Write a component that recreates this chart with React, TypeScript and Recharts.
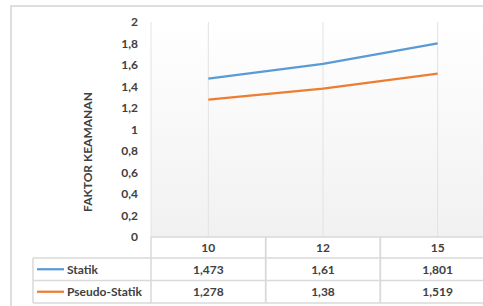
import { LineChart, Line, XAxis, YAxis, CartesianGrid } from 'recharts';

// Category labels and series values
const categories = ['10', '12', '15'];
const statik = [1.473, 1.61, 1.801];
const pseudoStatik = [1.278, 1.38, 1.519];
const yTicks = [0, 0.2, 0.4, 0.6, 0.8, 1, 1.2, 1.4, 1.6, 1.8, 2];

const seriesNames = ['Statik', 'Pseudo-Statik'];
const seriesColors = ['#5b9bd5', '#ed7d31'];

const data = categories.map((cat, i) => ({
  cat,
  statik: statik[i],
  pseudo: pseudoStatik[i],
}));

const CHART_W = 510;
const CHART_H = 306;
const MARGIN = { top: 22, right: 15, bottom: 0, left: 0 };
const Y_AXIS_W = 151;
const X_AXIS_H = 69;
const PLOT_W = CHART_W - MARGIN.left - MARGIN.right - Y_AXIS_W;
const COL_W = PLOT_W / categories.length;

const FONT = 'Lato, "Liberation Sans", sans-serif';
const TEXT = '#404040';
const BORDER = '#d9d9d9';
const ROWS = [21, 22.5, 22.5];

const fmt = (v: number) => String(v).replace('.', ',');

// Each x tick draws one column of the data table under the plot
function TableTick(props: any) {
  const { x, y, payload, index } = props;
  const left = x - COL_W / 2;
  const r1 = y + ROWS[0];
  const r2 = r1 + ROWS[1];
  const r3 = r2 + ROWS[2];
  const values = [statik[index], pseudoStatik[index]];
  const cell = { fill: TEXT, fontFamily: FONT, fontSize: 12, fontWeight: 700 };

  return (
    <g>
      <line x1={left} y1={y} x2={left + COL_W} y2={y} stroke={BORDER} strokeWidth={1.5} />
      <line x1={left} y1={r1} x2={left + COL_W} y2={r1} stroke={BORDER} strokeWidth={1.5} />
      <line x1={left} y1={r2} x2={left + COL_W} y2={r2} stroke={BORDER} strokeWidth={1.5} />
      <line x1={left} y1={r3} x2={left + COL_W} y2={r3} stroke={BORDER} strokeWidth={1.5} />
      <line x1={left} y1={y} x2={left} y2={r3} stroke={BORDER} strokeWidth={1.5} />
      <line x1={left + COL_W} y1={y} x2={left + COL_W} y2={r3} stroke={BORDER} strokeWidth={1.5} />
      <text x={x} y={y + ROWS[0] / 2} textAnchor="middle" dominantBaseline="central" {...cell}>
        {payload.value}
      </text>
      {values.map((v, i) => (
        <text
          key={i}
          x={x}
          y={(i === 0 ? r1 : r2) + ROWS[i + 1] / 2}
          textAnchor="middle"
          dominantBaseline="central"
          {...cell}
        >
          {fmt(v)}
        </text>
      ))}

      {/* legend key column, drawn once */}
      {index === 0 && (
        <g>
          <line x1={33} y1={r1} x2={left} y2={r1} stroke={BORDER} strokeWidth={1.5} />
          <line x1={33} y1={r2} x2={left} y2={r2} stroke={BORDER} strokeWidth={1.5} />
          <line x1={33} y1={r3} x2={left} y2={r3} stroke={BORDER} strokeWidth={1.5} />
          <line x1={33} y1={r1} x2={33} y2={r3} stroke={BORDER} strokeWidth={1.5} />
          {seriesNames.map((name, i) => {
            const cy = (i === 0 ? r1 : r2) + ROWS[i + 1] / 2;
            return (
              <g key={name}>
                <line x1={37} y1={cy} x2={64} y2={cy} stroke={seriesColors[i]} strokeWidth={2.25} />
                <text x={67} y={cy} dominantBaseline="central" {...cell}>
                  {name}
                </text>
              </g>
            );
          })}
        </g>
      )}
    </g>
  );
}

export default function App() {
  return (
    <div
      style={{
        position: 'absolute',
        left: 0,
        top: 0,
        width: 483,
        height: 306,
        overflow: 'hidden',
        background: '#fff',
      }}
    >
      <div
        style={{
          position: 'absolute',
          left: 10,
          top: 5,
          width: 520,
          height: 320,
          border: '2px solid #dedede',
        }}
      />
      <div style={{ position: 'absolute', left: 0, top: 0 }}>
        <LineChart width={CHART_W} height={CHART_H} data={data} margin={MARGIN}>
          <defs>
            <linearGradient id="plotBg" x1="0" y1="0" x2="0" y2="1">
              <stop offset="0%" stopColor="#ffffff" />
              <stop offset="100%" stopColor="#f1f1f1" />
            </linearGradient>
          </defs>
          <CartesianGrid horizontal={false} stroke="#e2e2e2" fill="url(#plotBg)" />
          <XAxis
            dataKey="cat"
            scale="band"
            height={X_AXIS_H}
            axisLine={false}
            tickLine={false}
            tickSize={0}
            tickMargin={0}
            interval={0}
            tick={<TableTick />}
          />
          <YAxis
            width={Y_AXIS_W}
            domain={[0, 2]}
            ticks={yTicks}
            axisLine={false}
            tickLine={false}
            tickMargin={7}
            tickFormatter={fmt}
            tick={{ fill: TEXT, fontFamily: FONT, fontSize: 12, fontWeight: 700 }}
            label={{
              content: () => (
                <text
                  transform="translate(92,152) rotate(-90)"
                  textAnchor="middle"
                  fill={TEXT}
                  fontFamily={FONT}
                  fontSize={12}
                  fontWeight={700}
                >
                  FAKTOR KEAMANAN
                </text>
              ),
            }}
          />
          <Line
            dataKey="statik"
            stroke={seriesColors[0]}
            strokeWidth={2.25}
            dot={false}
            isAnimationActive={false}
          />
          <Line
            dataKey="pseudo"
            stroke={seriesColors[1]}
            strokeWidth={2.25}
            dot={false}
            isAnimationActive={false}
          />
        </LineChart>
      </div>
    </div>
  );
}
